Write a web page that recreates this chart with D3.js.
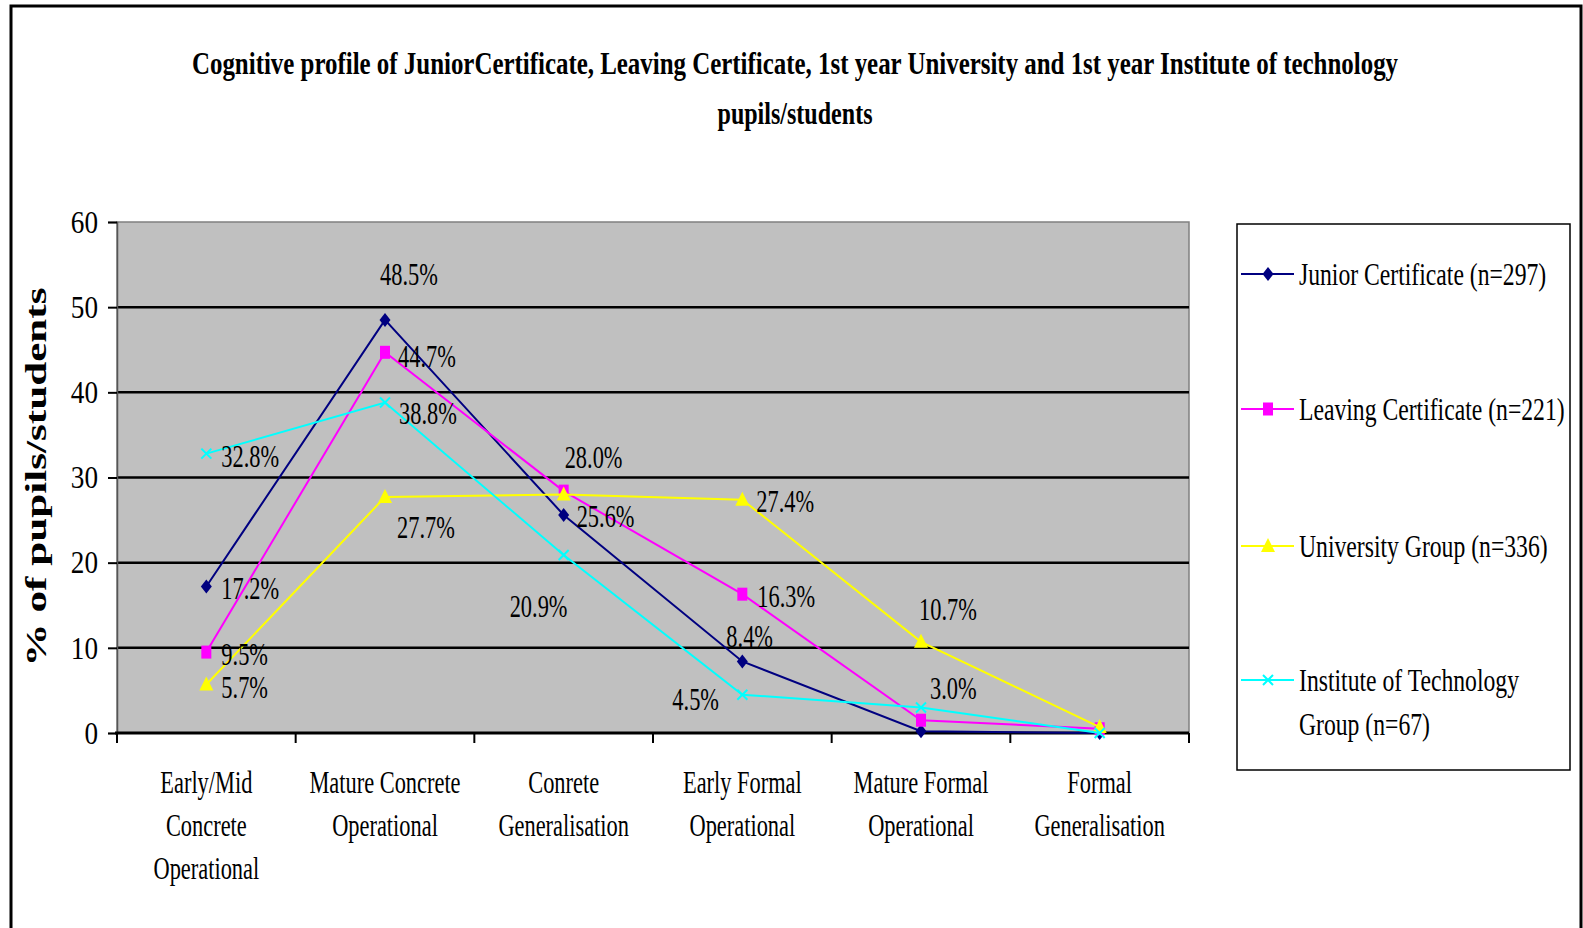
<!DOCTYPE html>
<html>
<head>
<meta charset="utf-8">
<script src="https://cdn.jsdelivr.net/npm/d3@7"></script>
<style>
  body { margin: 0; background: #fff; }
  svg text { font-family: "Liberation Serif", "Times New Roman", serif; fill: #000; }
</style>
</head>
<body>
<div id="chart"></div>
<script>
// categories (x axis), split into lines as in the original
var categories = [
  ["Early/Mid", "Concrete", "Operational"],
  ["Mature Concrete", "Operational"],
  ["Conrete", "Generalisation"],
  ["Early Formal", "Operational"],
  ["Mature Formal", "Operational"],
  ["Formal", "Generalisation"]
];

var junior     = [17.2, 48.5, 25.6, 8.4, 0.2, 0.0];
var leaving    = [9.5, 44.7, 28.4, 16.3, 1.5, 0.5];
var university = [5.7, 27.7, 28.0, 27.4, 10.7, 0.7];
var institute  = [32.8, 38.8, 20.9, 4.5, 3.0, 0.0];

var seriesNames = [
  ["Junior Certificate (n=297)"],
  ["Leaving Certificate (n=221)"],
  ["University Group (n=336)"],
  ["Institute of Technology", "Group (n=67)"]
];

var yTicks = [0, 10, 20, 30, 40, 50, 60];

// which points carry a label, and where the label sits (dx, dy from the point)
var labelSpots = [
  [[0, 15, 1], [1, -5, -46], [2, 13, 1], [3, -16, -25]],
  [[0, 15, 2], [1, 13, 4], [3, 15, 2]],
  [[0, 15, 3], [1, 12, 30], [2, 1, -38], [3, 14, 1], [4, -2, -33]],
  [[0, 15, 2], [1, 14, 10], [2, -54, 51], [3, -70, 4], [4, 9, -19]]
];

var colors = ["#000080", "#ff00ff", "#ffff00", "#00ffff"];
var symbols = ["diamond", "square", "triangle", "cross"];
var allSeries = [junior, leaving, university, institute];

var width = 1583, height = 928;
var plot = {left: 117, right: 1189, top: 222, bottom: 733};

var svg = d3.select("#chart").append("svg")
  .attr("width", width)
  .attr("height", height);

// outer frame
svg.append("rect")
  .attr("x", 11).attr("y", 6)
  .attr("width", 1570).attr("height", 960)
  .attr("fill", "#fff")
  .attr("stroke", "#000")
  .attr("stroke-width", 3);

// condensed serif text helper
function ctext(parent, x, y, str, size, sx, anchor, weight) {
  return parent.append("text")
    .attr("transform", "translate(" + x + "," + y + ") scale(" + sx + ",1)")
    .attr("text-anchor", anchor || "start")
    .attr("dominant-baseline", "central")
    .style("font-size", size + "px")
    .style("font-weight", weight || "normal")
    .text(str);
}

// title: squeeze each line to the width it has in the original
var titleLines = [
  ["Cognitive profile of JuniorCertificate, Leaving Certificate, 1st year University and 1st year Institute of technology", 63, 1207],
  ["pupils/students", 113, 155]
];
titleLines.forEach(function(t) {
  var el = ctext(svg, 795, t[1], t[0], 32, 1, "middle", "bold");
  var w = el.node().getComputedTextLength();
  el.attr("transform", "translate(795," + t[1] + ") scale(" + (t[2] / w) + ",1)");
});

var x = d3.scaleBand()
  .domain(d3.range(categories.length))
  .range([plot.left, plot.right]);

var y = d3.scaleLinear()
  .domain([0, 60])
  .range([plot.bottom, plot.top]);

// plot area
svg.append("rect")
  .attr("x", plot.left).attr("y", plot.top)
  .attr("width", plot.right - plot.left)
  .attr("height", plot.bottom - plot.top)
  .attr("fill", "#c0c0c0")
  .attr("stroke", "#808080")
  .attr("stroke-width", 1.5);

// gridlines
svg.append("g").selectAll("line")
  .data(yTicks.filter(function(d) { return d > 0 && d < 60; }))
  .enter().append("line")
  .attr("x1", plot.left).attr("x2", plot.right)
  .attr("y1", function(d) { return y(d); })
  .attr("y2", function(d) { return y(d); })
  .attr("stroke", "#000")
  .attr("stroke-width", 2.5);

// y axis
var yAxis = d3.axisLeft(y).tickValues(yTicks).tickSize(9).tickFormat("");
var yg = svg.append("g").attr("transform", "translate(" + plot.left + ",0)").call(yAxis);
yg.select(".domain").attr("stroke", "#555").attr("stroke-width", 1.5);
yg.selectAll(".tick line").attr("stroke", "#000").attr("stroke-width", 2);
yTicks.forEach(function(t) {
  ctext(svg, 98, y(t), String(t), 32, 0.85, "end");
});

// x axis
var xEdges = d3.range(categories.length).map(function(i) { return x(i); }).concat([plot.right]);
svg.append("line")
  .attr("x1", plot.left - 2).attr("x2", plot.right)
  .attr("y1", plot.bottom).attr("y2", plot.bottom)
  .attr("stroke", "#000").attr("stroke-width", 3);
svg.append("g").selectAll("line")
  .data(xEdges)
  .enter().append("line")
  .attr("x1", function(d) { return d; })
  .attr("x2", function(d) { return d; })
  .attr("y1", plot.bottom).attr("y2", plot.bottom + 10)
  .attr("stroke", "#000").attr("stroke-width", 2);

categories.forEach(function(lines, i) {
  lines.forEach(function(line, j) {
    ctext(svg, x(i) + x.bandwidth() / 2, 782 + j * 43, line, 32, 0.7, "middle");
  });
});

// y axis title
svg.append("text")
  .attr("transform", "translate(35,477) rotate(-90)")
  .attr("text-anchor", "middle")
  .attr("dominant-baseline", "central")
  .attr("textLength", 379)
  .attr("lengthAdjust", "spacingAndGlyphs")
  .style("font-size", "30px")
  .style("font-weight", "bold")
  .text("% of pupils/students");

// markers
function drawMarker(g, type, color, cx, cy) {
  if (type === "diamond") {
    g.append("path")
      .attr("d", "M0,-7 L5.5,0 L0,7 L-5.5,0 Z")
      .attr("transform", "translate(" + cx + "," + cy + ")")
      .attr("fill", color);
  } else if (type === "square") {
    g.append("rect")
      .attr("x", cx - 5).attr("y", cy - 6.5)
      .attr("width", 10).attr("height", 13)
      .attr("fill", color);
  } else if (type === "triangle") {
    g.append("path")
      .attr("d", "M0,-8 L7,6 L-7,6 Z")
      .attr("transform", "translate(" + cx + "," + cy + ")")
      .attr("fill", color);
  } else {
    g.append("path")
      .attr("d", "M-5,-5 L5,5 M-5,5 L5,-5")
      .attr("transform", "translate(" + cx + "," + cy + ")")
      .attr("stroke", color)
      .attr("stroke-width", 2)
      .attr("fill", "none");
  }
}

var line = d3.line()
  .x(function(d, i) { return x(i) + x.bandwidth() / 2; })
  .y(function(d) { return y(d); });

allSeries.forEach(function(values, s) {
  var g = svg.append("g").attr("class", "series_" + s);
  g.append("path")
    .datum(values)
    .attr("d", line)
    .attr("fill", "none")
    .attr("stroke", colors[s])
    .attr("stroke-width", 2);
  values.forEach(function(v, i) {
    drawMarker(g, symbols[s], colors[s], x(i) + x.bandwidth() / 2, y(v));
  });
});

// data labels on top
allSeries.forEach(function(values, s) {
  labelSpots[s].forEach(function(spot) {
    var i = spot[0];
    var px = x(i) + x.bandwidth() / 2;
    var py = y(values[i]);
    ctext(svg, px + spot[1], py + spot[2], values[i].toFixed(1) + "%", 32, 0.7, "start");
  });
});

// legend
var legend = svg.append("g");
legend.append("rect")
  .attr("x", 1237).attr("y", 224)
  .attr("width", 333).attr("height", 546)
  .attr("fill", "#fff")
  .attr("stroke", "#000")
  .attr("stroke-width", 1.5);

var legendY = [274, 409, 546, 680];
seriesNames.forEach(function(names, s) {
  var ly = legendY[s];
  legend.append("line")
    .attr("x1", 1241).attr("x2", 1294)
    .attr("y1", ly).attr("y2", ly)
    .attr("stroke", colors[s]).attr("stroke-width", 2);
  drawMarker(legend, symbols[s], colors[s], 1268, ly);
  names.forEach(function(n, j) {
    ctext(legend, 1299, ly + j * 44, n, 32, 0.74, "start");
  });
});
</script>
</body>
</html>
